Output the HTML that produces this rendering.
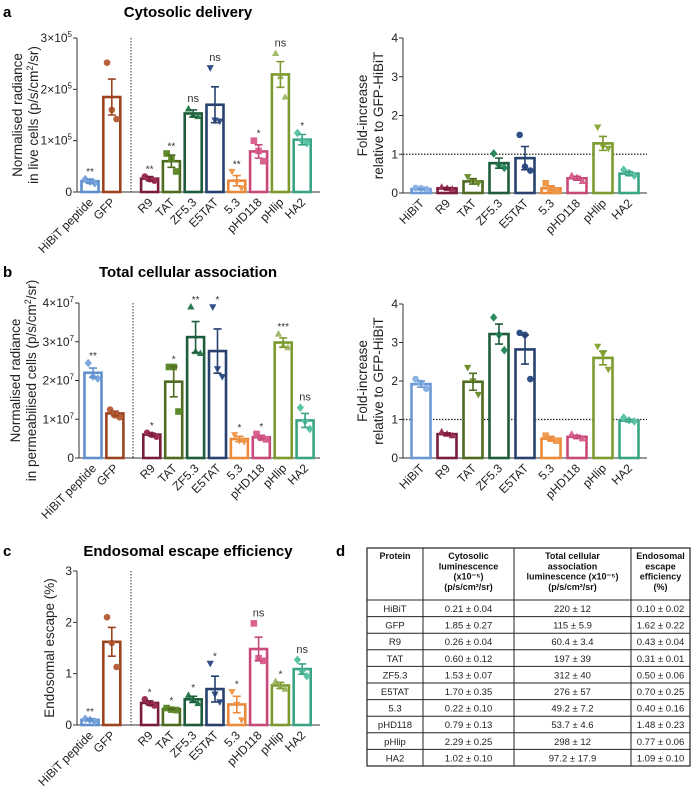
<!DOCTYPE html>
<html><head><meta charset="utf-8"><style>
html,body{margin:0;padding:0;background:#fff;}
svg{display:block;font-family:"Liberation Sans",Arial,sans-serif;}
</style></head><body>
<svg id="fig" width="700" height="787" viewBox="0 0 700 787" xmlns="http://www.w3.org/2000/svg">
<text x="3" y="17" font-size="15" font-weight="bold">a</text>
<text x="188" y="17" font-size="15" font-weight="bold" text-anchor="middle">Cytosolic delivery</text>
<text x="3" y="277" font-size="15" font-weight="bold">b</text>
<text x="188" y="277" font-size="15" font-weight="bold" text-anchor="middle">Total cellular association</text>
<text x="3" y="556" font-size="15" font-weight="bold">c</text>
<text x="188" y="556" font-size="15" font-weight="bold" text-anchor="middle">Endosomal escape efficiency</text>
<text x="336" y="556" font-size="15" font-weight="bold">d</text>
<g id="charts"></g>
<g id="table"></g>
</svg>
<script>
// ---------- data ----------
const catsLeft = ["HiBiT peptide","GFP","R9","TAT","ZF5.3","E5TAT","5.3","pHD118","pHlip","HA2"];
const catsRight = ["HiBiT","R9","TAT","ZF5.3","E5TAT","5.3","pHD118","pHlip","HA2"];

const aMeans = [0.21,1.85,0.26,0.60,1.53,1.70,0.22,0.79,2.29,1.02];
const aErr = [0.04,0.35,0.04,0.12,0.07,0.35,0.10,0.13,0.25,0.10];
const aPts = [[0.25,0.20,0.17],[2.52,1.60,1.42],[0.30,0.25,0.22],[0.75,0.65,0.40],[1.62,1.50,1.47],[2.42,1.40,1.38],[0.40,0.20,0.08],[1.00,0.80,0.60],[2.70,2.25,1.85],[1.15,1.00,0.95]];
const aSig = ["**","","**","**","ns","ns","**","*","ns","*"];
const aTicks = [0,1,2,3];

const bMeans = [2.20,1.15,0.604,1.97,3.12,2.76,0.49,0.537,2.98,0.97];
const bErr = [0.12,0.06,0.034,0.39,0.40,0.57,0.07,0.046,0.12,0.18];
const bPts = [[2.45,2.10,2.05],[1.25,1.10,1.05],[0.65,0.60,0.55],[2.35,2.35,1.20],[3.90,2.75,2.70],[3.90,2.30,2.10],[0.60,0.45,0.42],[0.62,0.52,0.48],[3.20,2.90,2.85],[1.30,0.95,0.75]];
const bSig = ["**","","*","*","**","*","*","*","***","ns"];
const bTicks = [0,1,2,3,4];

const cMeans = [0.10,1.62,0.43,0.31,0.50,0.70,0.40,1.48,0.77,1.09];
const cErr = [0.02,0.28,0.04,0.01,0.06,0.25,0.16,0.23,0.06,0.10];
const cPts = [[0.12,0.10,0.07],[2.10,1.60,1.13],[0.50,0.42,0.38],[0.33,0.30,0.29],[0.58,0.50,0.42],[1.20,0.60,0.45],[0.65,0.40,0.10],[1.98,1.30,1.25],[0.85,0.75,0.70],[1.27,1.05,0.95]];
const cSig = ["**","","*","*","*","*","*","ns","*","ns"];
const cTicks = [0,1,2,3];

const raMeans = [0.10,0.12,0.30,0.77,0.90,0.12,0.38,1.28,0.50];
const raErr = [0.01,0.02,0.07,0.13,0.30,0.06,0.05,0.18,0.05];
const raPts = [[0.13,0.12,0.10],[0.15,0.12,0.10],[0.42,0.30,0.25],[1.02,0.72,0.65],[1.50,0.68,0.58],[0.25,0.12,0.05],[0.45,0.40,0.30],[1.70,1.20,1.15],[0.60,0.52,0.45]];

const rbMeans = [1.92,0.62,1.98,3.22,2.82,0.50,0.55,2.60,0.97];
const rbErr = [0.08,0.03,0.22,0.26,0.38,0.04,0.04,0.18,0.03];
const rbPts = [[2.05,1.95,1.80],[0.68,0.62,0.58],[2.35,2.00,1.65],[3.65,3.20,2.80],[3.25,3.20,2.05],[0.58,0.50,0.45],[0.62,0.55,0.50],[2.90,2.70,2.30],[1.05,0.98,0.95]];
const rTicks = [0,1,2,3,4];

const tableHead = ["Protein","Cytosolic|luminescence|(x10⁻⁵)|(p/s/cm²/sr)","Total cellular|association|luminescence (x10⁻⁵)|(p/s/cm²/sr)","Endosomal|escape|efficiency|(%)"];
const tableRows = [
["HiBiT","0.21 ± 0.04","220 ± 12","0.10 ± 0.02"],
["GFP","1.85 ± 0.27","115 ± 5.9","1.62 ± 0.22"],
["R9","0.26 ± 0.04","60.4 ± 3.4","0.43 ± 0.04"],
["TAT","0.60 ± 0.12","197 ± 39","0.31 ± 0.01"],
["ZF5.3","1.53 ± 0.07","312 ± 40","0.50 ± 0.06"],
["E5TAT","1.70 ± 0.35","276 ± 57","0.70 ± 0.25"],
["5.3","0.22 ± 0.10","49.2 ± 7.2","0.40 ± 0.16"],
["pHD118","0.79 ± 0.13","53.7 ± 4.6","1.48 ± 0.23"],
["pHlip","2.29 ± 0.25","298 ± 12","0.77 ± 0.06"],
["HA2","1.02 ± 0.10","97.2 ± 17.9","1.09 ± 0.10"]];

// ---------- styling ----------
const colL = ["#5f8fcd","#9c4320","#7a1c3c","#4e6b20","#1e5d3c","#28416f","#ec8a3c","#c84a7b","#7c9a2e","#3aa486"];
const ptL = ["#7aa6dd","#b9603c","#9c2f55","#5f8a2c","#2a7a4e","#2f4f86","#f09a4e","#d9628f","#a2b86a","#5cc4a5"];
const mkL = ["diamond","circle","circle","square","tri","dtri","dtri","square","tri","diamond"];
const colR = ["#6a99d6","#7a1c3c","#4e6b20","#1e5d3c","#28416f","#ec8a3c","#c84a7b","#7c9a2e","#3aa486"];
const ptR = ["#8ab2e4","#9c2f55","#6f8f2c","#2a8a5e","#2f4f86","#f09a4e","#d9628f","#8aa83a","#5cc4a5"];
const mkRa = ["circle","tri","dtri","diamond","circle","square","tri","dtri","diamond"];
const mkRb = ["circle","tri","dtri","diamond","circle","square","tri","dtri","diamond"];

const NS="http://www.w3.org/2000/svg";
const chartRoot=document.getElementById('charts');
function el(tag,attrs,parent){const e=document.createElementNS(NS,tag);for(const k in attrs)e.setAttribute(k,attrs[k]);(parent||chartRoot).appendChild(e);return e;}

function marker(g,type,x,y,c,s){
  let e;
  if(type==="circle") e=el('circle',{cx:x,cy:y,r:s},g);
  else if(type==="square") e=el('rect',{x:x-s,y:y-s,width:2*s,height:2*s},g);
  else if(type==="diamond") e=el('polygon',{points:`${x},${y-s*1.3} ${x+s*1.1},${y} ${x},${y+s*1.3} ${x-s*1.1},${y}`},g);
  else if(type==="tri") e=el('polygon',{points:`${x},${y-s*1.2} ${x+s*1.1},${y+s*0.8} ${x-s*1.1},${y+s*0.8}`},g);
  else e=el('polygon',{points:`${x},${y+s*1.2} ${x+s*1.1},${y-s*0.8} ${x-s*1.1},${y-s*0.8}`},g);
  e.setAttribute('fill',c);
  
  
}

function chart(o){
  const g=el('g',{});
  
  
  const y=v=>o.y0-(v/o.max)*(o.y0-o.y1);
  const xs=i=>o.xStart+i*o.step+(o.gapAfter!=null&&i>o.gapAfter?o.gapW:0);
  const ya=el('line',{x1:o.ax,y1:o.y1,x2:o.ax,y2:o.y0,stroke:'#333','stroke-width':1},g);
  
  
  const xa=el('line',{x1:o.ax,y1:o.y0,x2:o.xEnd,y2:o.y0,stroke:'#333','stroke-width':1},g);
  
  
  o.ticks.forEach(t=>{
    el('line',{x1:o.ax-4,y1:y(t),x2:o.ax,y2:y(t),stroke:'#333'},g);
    const tx=el('text',{x:o.ax-5,y:y(t)+4,'font-size':12,'text-anchor':'end',fill:'#222'},g);
    
    
    if(t===0||!o.exp){tx.textContent=t;}
    else{tx.appendChild(document.createTextNode(t+'×10'));const s=el('tspan',{dy:-5,'font-size':8},tx);s.textContent=o.exp;}
  });
  if(o.dotX){const d=el('line',{x1:o.dotX,y1:o.y1,x2:o.dotX,y2:o.y0,stroke:'#333','stroke-dasharray':'1.5,1.5'},g);
    
    }
  if(o.refLine){const d=el('line',{x1:o.ax,y1:y(1),x2:o.xEnd,y2:y(1),stroke:'#222','stroke-dasharray':'1.5,1.5','stroke-width':1.2},g);
    
    }
  const yt=el('text',{transform:`translate(${o.ytx},${(o.y0+o.y1)/2}) rotate(-90)`,'font-size':13.5,'text-anchor':'middle',fill:'#222'},g);
  
  
  o.ytitle.forEach((ln,i)=>{const t=el('tspan',{x:0,dy:i===0?0:16},yt);
    if(ln.includes('cm2')){const p=ln.split('cm2');t.appendChild(document.createTextNode(p[0]+'cm'));const s=el('tspan',{dy:-5,'font-size':9},t);s.textContent='2';const r=el('tspan',{dy:5},t);r.textContent=p[1];}
    else t.textContent=ln;});
  o.cats.forEach((c,i)=>{
    const cx=xs(i),m=o.means[i],e=o.err[i];
    const bar=el('rect',{x:cx-o.bw/2,y:y(m),width:o.bw,height:o.y0-y(m),fill:'#fff',stroke:o.cols[i],'stroke-width':2.6},g);
    
    
    o.pts[i].forEach((p,j)=>marker(g,o.mk[i],cx+[-o.bw*0.28,0,o.bw*0.28][j],y(p),o.pcols[i],3.3));
    const eb=el('path',{d:`M${cx},${y(m-e)}V${y(m+e)}M${cx-4},${y(m+e)}H${cx+4}M${cx-4},${y(m-e)}H${cx+4}`,stroke:o.cols[i],'stroke-width':1.6,fill:'none'},g);
    
    
    if(o.sig&&o.sig[i]){const tp=Math.max(m+e,...o.pts[i]);
      const st=el('text',{x:cx,y:y(tp)-(o.sig[i]==='ns'?7:4),'font-size':o.sig[i]==='ns'?11:10,'text-anchor':'middle',fill:'#333'},g);
      st.textContent=o.sig[i];
      
      }
    const lb=el('text',{transform:`translate(${cx+4},${o.y0+11}) rotate(-45)`,'font-size':12,'text-anchor':'end',fill:'#222'},g);
    lb.textContent=c;
    
    
  });
}

chart({name:'chart-a-cytosolic',cats:catsLeft,means:aMeans,err:aErr,pts:aPts,sig:aSig,ticks:aTicks,max:3,exp:'5',
  ax:77,xEnd:320,y0:192,y1:38,xStart:90,step:21.8,gapAfter:1,gapW:16,bw:17,dotX:131,cols:colL,pcols:ptL,mk:mkL,
  ytx:22,ytitle:['Normalised radiance','in live cells (p/s/cm2/sr)']});
chart({name:'chart-b-total',cats:catsLeft,means:bMeans,err:bErr,pts:bPts,sig:bSig,ticks:bTicks,max:4,exp:'7',
  ax:79,xEnd:320,y0:458,y1:303,xStart:93,step:21.9,gapAfter:1,gapW:15,bw:17,dotX:133,cols:colL,pcols:ptL,mk:mkL,
  ytx:20,ytitle:['Normalised radiance','in permeabilised cells (p/s/cm2/sr)']});
chart({name:'chart-c-escape',cats:catsLeft,means:cMeans,err:cErr,pts:cPts,sig:cSig,ticks:cTicks,max:3,exp:null,
  ax:77,xEnd:320,y0:725,y1:571,xStart:90,step:21.8,gapAfter:1,gapW:16,bw:17,dotX:131,cols:colL,pcols:ptL,mk:mkL,
  ytx:54,ytitle:['Endosomal escape (%)']});
chart({name:'chart-a-fold',cats:catsRight,means:raMeans,err:raErr,pts:raPts,sig:null,ticks:rTicks,max:4,exp:null,
  ax:403,xEnd:647,y0:193,y1:38,xStart:421,step:26,gapAfter:null,gapW:0,bw:19,dotX:null,refLine:true,cols:colR,pcols:ptR,mk:mkRa,
  ytx:367,ytitle:['Fold-increase','relative to GFP-HiBiT']});
chart({name:'chart-b-fold',cats:catsRight,means:rbMeans,err:rbErr,pts:rbPts,sig:null,ticks:rTicks,max:4,exp:null,
  ax:403,xEnd:647,y0:458,y1:304,xStart:421,step:26,gapAfter:null,gapW:0,bw:19,dotX:null,refLine:true,cols:colR,pcols:ptR,mk:mkRb,
  ytx:367,ytitle:['Fold-increase','relative to GFP-HiBiT']});

// ---------- table ----------
const tg=document.getElementById('table');
const colX=[367,423,514,631,690];
const tTop=548, headH=52, rowH=16.6;
const tBottom=tTop+headH+rowH*tableRows.length;
el('rect',{x:colX[0],y:tTop,width:colX[4]-colX[0],height:tBottom-tTop,fill:'none',stroke:'#222','stroke-width':1.2},tg);
colX.slice(1,4).forEach(x=>el('line',{x1:x,y1:tTop,x2:x,y2:tBottom,stroke:'#222','stroke-width':1},tg));
for(let r=0;r<tableRows.length;r++){const yy=tTop+headH+r*rowH;el('line',{x1:colX[0],y1:yy,x2:colX[4],y2:yy,stroke:'#222','stroke-width':1},tg);}
tableHead.forEach((h,c)=>{const cx=(colX[c]+colX[c+1])/2;
  h.split('|').forEach((ln,i)=>{const t=el('text',{x:cx,y:tTop+11+i*10.3,'font-size':9,'font-weight':'bold','text-anchor':'middle',fill:'#111'},tg);
    t.textContent=ln;
    
    });});
tableRows.forEach((row,r)=>row.forEach((v,c)=>{const t=el('text',{x:(colX[c]+colX[c+1])/2,y:tTop+headH+r*rowH+12,'font-size':9.5,'text-anchor':'middle',fill:'#222'},tg);
  t.textContent=v;
  
  }));
</script>
</body></html>
